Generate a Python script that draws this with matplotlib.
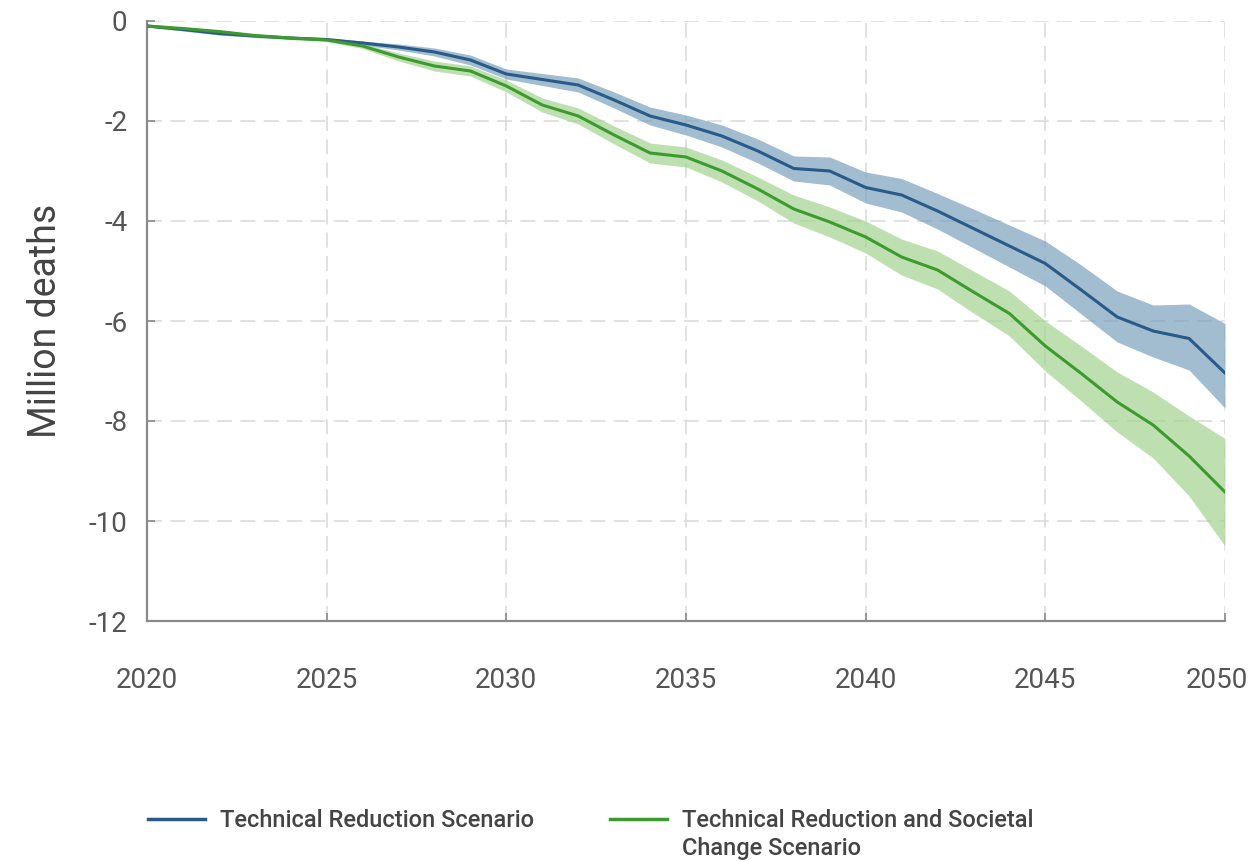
import numpy as np
import matplotlib
matplotlib.use('Agg')
import matplotlib.pyplot as plt
import matplotlib.transforms as mtransforms
from matplotlib.lines import Line2D

plt.rcParams['font.family'] = ['Roboto', 'DejaVu Sans']
plt.rcParams['axes.unicode_minus'] = False

years = list(range(2020, 2051))

# Technical Reduction Scenario (million deaths avoided, negative)
tech_mean = [-0.10, -0.17, -0.25, -0.30, -0.34, -0.37, -0.44, -0.52, -0.62, -0.78,
             -1.06, -1.17, -1.28, -1.58, -1.90, -2.08, -2.30, -2.60, -2.95, -3.00,
             -3.33, -3.48, -3.80, -4.15, -4.50, -4.85, -5.38, -5.92, -6.20, -6.35, -7.04]
tech_upper = [-0.08, -0.14, -0.22, -0.27, -0.31, -0.34, -0.40, -0.46, -0.54, -0.68,
              -0.96, -1.05, -1.14, -1.42, -1.72, -1.88, -2.08, -2.36, -2.70, -2.72,
              -3.02, -3.15, -3.45, -3.76, -4.08, -4.40, -4.88, -5.40, -5.68, -5.66, -6.05]
tech_lower = [-0.12, -0.20, -0.28, -0.33, -0.37, -0.40, -0.48, -0.58, -0.70, -0.88,
              -1.16, -1.29, -1.42, -1.74, -2.08, -2.28, -2.52, -2.84, -3.20, -3.28,
              -3.64, -3.82, -4.16, -4.54, -4.92, -5.30, -5.86, -6.42, -6.72, -6.98, -7.74]

# Technical Reduction and Societal Change Scenario
soc_mean = [-0.10, -0.15, -0.21, -0.29, -0.34, -0.38, -0.50, -0.72, -0.90, -1.00,
            -1.30, -1.68, -1.90, -2.28, -2.64, -2.72, -3.00, -3.36, -3.76, -4.02,
            -4.32, -4.72, -4.98, -5.42, -5.85, -6.50, -7.05, -7.62, -8.08, -8.70, -9.42]
soc_upper = [-0.08, -0.12, -0.18, -0.26, -0.31, -0.35, -0.45, -0.64, -0.80, -0.90,
             -1.18, -1.54, -1.74, -2.10, -2.44, -2.52, -2.78, -3.12, -3.48, -3.72,
             -4.00, -4.36, -4.60, -5.00, -5.40, -6.00, -6.50, -7.02, -7.42, -7.90, -8.35]
soc_lower = [-0.12, -0.18, -0.24, -0.32, -0.37, -0.41, -0.55, -0.80, -1.00, -1.10,
             -1.42, -1.82, -2.06, -2.46, -2.84, -2.92, -3.22, -3.60, -4.04, -4.32,
             -4.64, -5.08, -5.36, -5.84, -6.30, -7.00, -7.60, -8.22, -8.74, -9.50, -10.50]

labels = ['Technical Reduction Scenario',
          'Technical Reduction and Societal\nChange Scenario']
xticks = [2020, 2025, 2030, 2035, 2040, 2045, 2050]
yticks = [0, -2, -4, -6, -8, -10, -12]

blue_line, blue_band = '#285b88', '#7ba0bd'
green_line, green_band = '#3c9a2e', '#a3d391'

fig = plt.figure(figsize=(12.55, 8.61), dpi=100)
ax = fig.add_axes([147 / 1255, 1 - 621 / 861, (1225 - 147) / 1255, 600 / 861])

ax.fill_between(years, tech_lower, tech_upper, color=blue_band, alpha=0.7, lw=0, zorder=2)
ax.fill_between(years, soc_lower, soc_upper, color=green_band, alpha=0.7, lw=0, zorder=2)
ax.plot(years, tech_mean, color=blue_line, lw=2.2, zorder=3, solid_joinstyle='round')
ax.plot(years, soc_mean, color=green_line, lw=2.2, zorder=3, solid_joinstyle='round')

ax.set_xlim(2020, 2050)
ax.set_ylim(-12, 0)
ax.set_xticks(xticks)
ax.set_yticks(yticks)
ax.grid(True, color='#dcdcdc', linestyle=(0, (9, 5)), lw=1.2, zorder=0)
for s in ['top', 'right']:
    ax.spines[s].set_visible(False)
for s in ['left', 'bottom']:
    ax.spines[s].set_color('#8a8a8a')
    ax.spines[s].set_linewidth(1.6)
ax.tick_params(axis='y', direction='in', length=6, width=1.2, color='#8a8a8a',
               pad=14, labelsize=20, labelcolor='#555555')
ax.tick_params(axis='x', direction='in', length=6, width=1.2, color='#8a8a8a',
               pad=33, labelsize=20, labelcolor='#555555')
ax.set_ylabel('Million deaths', fontsize=27, color='#444444', labelpad=18)

# last year label sits a little left so it stays inside the picture
last = ax.get_xticklabels()[-1]
last.set_transform(last.get_transform() +
                   mtransforms.ScaledTranslation(-0.08, 0, fig.dpi_scale_trans))

# legend drawn below the plot
top_y = 1 - 809 / 861
line_y = 1 - 819 / 861
for x0, lab, col in [(148, labels[0], blue_line), (610, labels[1], green_line)]:
    fig.add_artist(Line2D([x0 / 1255, (x0 + 57) / 1255], [line_y, line_y],
                          color=col, lw=2.5, transform=fig.transFigure))
    fig.text((x0 + 72) / 1255, top_y, lab, fontsize=17, fontweight='medium',
             color='#444444', va='top', ha='left', linespacing=1.25)

fig.savefig('out.png', dpi=100)
